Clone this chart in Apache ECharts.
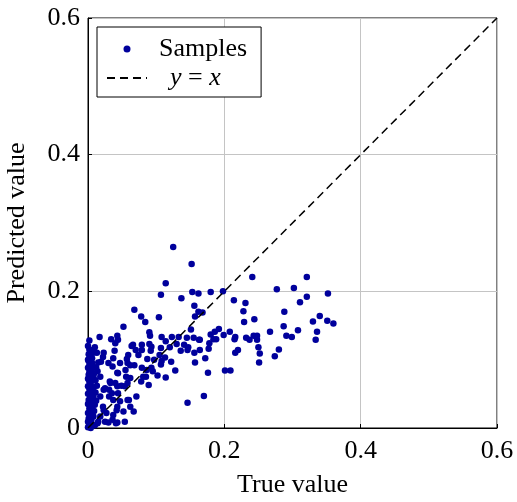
<!DOCTYPE html>
<html>
<head>
<meta charset="utf-8">
<script src="https://cdn.jsdelivr.net/npm/echarts@6/dist/echarts.min.js"></script>
<style>
html,body{margin:0;padding:0;background:#fff;}
#chart{width:517px;height:502px;}
</style>
</head>
<body>
<div id="chart"></div>
<script>
// True values (x) and predicted values (y) of the samples
const trueValues = [
0.241,0.321,0.180,0.198,0.277,0.302,0.352,0.214,0.231,0.311,0.321,0.168,0.228,0.288,0.229,0.244,0.330,0.340,0.351,0.360,
0.287,0.308,0.336,0.334,0.267,0.291,0.299,0.164,0.180,0.186,0.192,0.184,0.188,0.199,0.208,0.216,0.215,0.232,0.237,0.243,
0.248,0.248,0.250,0.252,0.251,0.280,0.274,0.220,0.216,0.178,0.177,0.172,0.176,0.201,0.209,0.170,
0.125,0.152,0.114,0.107,0.153,0.162,0.137,0.156,0.162,0.068,0.078,0.084,0.104,0.157,0.052,0.090,0.151,
0.002,0.017,0.034,0.043,0.044,0.091,0.108,0.123,0.133,0.145,0.155,0.163,0.040,0.066,0.079,0.090,0.093,0.114,0.130,0.141,0.147,
0.070,0.079,0.092,0.107,0.120,0.136,0.146,0.164,0.008,0.039,0.059,0.074,0.105,0.113,0.156,0.022,0.037,0.057,0.087,0.097,0.108,0.122,
0.001,0.006,0.015,0.030,0.047,0.062,0.068,0.079,0.093,0.107,0.157,0.012,0.036,0.055,0.086,0.095,0.081,0.085,0.102,0.114,0.128,
0.003,0.008,0.018,0.044,0.056,0.062,0.032,0.040,0.049,0.078,0.089,0.003,0.013,0.025,0.031,0.035,0.044,0.054,0.071,0.146,
0.008,0.018,0.037,0.047,0.060,0.062,0.067,0.042,0.052,0.003,0.010,0.022,0.027,0.037,0.018,0.025,0.030,0.041,0.054,0.003,0.010,0.015,
0.064,0.023,0.019,0.043,0.058,0.014,0.011,0.033,0.023,0.043,0.058,0.031,0.058,0.043,0.023,0.036,0.043,0.014,
0.000,0.002,0.004,0.001,0.003,0.006,0.000,0.004,0.002,0.007,0.000,0.005,0.002,0.009,0.001,0.004,0.000,0.006,0.002,0.004,
0.000,0.008,0.002,0.005,0.000,0.003,0.006,0.001,0.004,0.000,0.007,0.002,0.005,0.000,0.003,0.008,0.001,0.005,0.000,0.002,
0.006,0.000,0.004,0.011,0.012,0.009,0.013,0.010
];
const predictedValues = [
0.221,0.221,0.199,0.200,0.203,0.205,0.197,0.187,0.183,0.184,0.192,0.169,0.171,0.170,0.155,0.159,0.156,0.164,0.157,0.153,
0.149,0.143,0.141,0.129,0.141,0.135,0.133,0.129,0.137,0.141,0.145,0.130,0.130,0.136,0.141,0.133,0.130,0.132,0.129,0.135,
0.135,0.129,0.118,0.109,0.096,0.115,0.105,0.114,0.110,0.124,0.116,0.102,0.081,0.084,0.084,0.047,
0.265,0.240,0.212,0.195,0.199,0.197,0.190,0.179,0.170,0.173,0.163,0.155,0.162,0.163,0.148,0.140,0.144,
0.128,0.133,0.130,0.135,0.129,0.135,0.133,0.133,0.133,0.132,0.132,0.129,0.124,0.122,0.122,0.123,0.119,0.127,0.123,0.122,0.118,
0.114,0.114,0.113,0.117,0.118,0.113,0.114,0.114,0.110,0.113,0.107,0.107,0.107,0.103,0.110,0.104,0.102,0.101,0.101,0.100,0.098,0.097,
0.098,0.095,0.096,0.095,0.095,0.092,0.092,0.088,0.088,0.093,0.096,0.089,0.090,0.085,0.085,0.083,0.075,0.075,0.077,0.074,0.084,
0.085,0.075,0.075,0.080,0.075,0.073,0.068,0.066,0.062,0.068,0.063,0.066,0.062,0.058,0.056,0.051,0.051,0.061,0.046,0.037,
0.046,0.046,0.041,0.039,0.041,0.031,0.024,0.026,0.024,0.031,0.034,0.031,0.022,0.019,0.017,0.009,0.008,0.007,0.009,0.007,0.004,0.009,
0.120,0.110,0.097,0.081,0.095,0.083,0.070,0.066,0.056,0.061,0.066,0.046,0.041,0.031,0.026,0.012,0.008,0.007,
0.120,0.115,0.112,0.108,0.104,0.102,0.100,0.097,0.092,0.090,0.088,0.086,0.082,0.080,0.078,0.076,0.072,0.070,0.068,0.064,
0.061,0.059,0.057,0.054,0.050,0.048,0.044,0.041,0.038,0.035,0.033,0.028,0.025,0.022,0.019,0.017,0.014,0.012,0.009,0.005,
0.003,0.001,0.000,0.052,0.040,0.025,0.110,0.118
];
// Reference line y = x
const diagX = [0, 0.6];
const diagY = [0, 0.6];
const axisTicks = [0, 0.2, 0.4, 0.6];

const FONT = 'Liberation Serif';
const FS = 26;
const samples = trueValues.map((x, i) => [x, predictedValues[i]]);
const diag = diagX.map((x, i) => [x, diagY[i]]);

const chart = echarts.init(document.getElementById('chart'), null, {renderer: 'canvas'});
const axisCommon = {
  type: 'value',
  min: axisTicks[0],
  max: axisTicks[axisTicks.length - 1],
  interval: axisTicks[1] - axisTicks[0],
  axisLine: {show: true, lineStyle: {color: '#000', width: 1}},
  axisTick: {show: true, inside: true, length: 4, lineStyle: {color: '#000'}},
  splitLine: {show: true, lineStyle: {color: '#c4c4c4', width: 1}},
  nameLocation: 'middle',
  nameTextStyle: {fontFamily: FONT, fontSize: FS, color: '#000'},
  axisLabel: {fontFamily: FONT, fontSize: FS, color: '#000',
    formatter: v => (v === 0 ? '0' : String(+v.toFixed(1)))}
};
chart.setOption({
  animation: false,
  backgroundColor: '#fff',
  grid: {left: 88, right: 20, top: 18, bottom: 74, containLabel: false, outerBoundsMode: 'none',
    show: true, borderColor: '#000', borderWidth: 1, backgroundColor: 'transparent'},
  xAxis: Object.assign({}, axisCommon, {name: 'True value', nameGap: 44,
    axisLabel: Object.assign({}, axisCommon.axisLabel, {margin: 10})}),
  yAxis: Object.assign({}, axisCommon, {name: 'Predicted value', nameGap: 58,
    axisLabel: Object.assign({}, axisCommon.axisLabel, {margin: 8})}),
  legend: {
    orient: 'vertical',
    left: 97, top: 27,
    padding: [9, 14, 6, 9],
    itemGap: 3,
    itemWidth: 40,
    itemHeight: 7,
    borderColor: '#000', borderWidth: 1,
    backgroundColor: '#fff',
    selectedMode: false,
    textStyle: {fontFamily: FONT, fontSize: FS, color: '#000',
      rich: {i: {fontFamily: FONT, fontSize: FS, fontStyle: 'italic', color: '#000'},
             n: {fontFamily: FONT, fontSize: FS, color: '#000'},
             s: {width: 7}, t: {width: 18}}},
    formatter: name => (name === 'y = x' ? '{t|}{i|y} = {i|x}' : '{s|}{n|' + name + '}'),
    data: [{name: 'Samples', icon: 'circle'}, {name: 'y = x', itemStyle: {opacity: 0}}]
  },
  series: [
    {
      name: 'Samples', type: 'scatter', data: samples, symbol: 'circle', symbolSize: 6.5,
      itemStyle: {color: '#00009c', opacity: 1}, z: 2
    },
    {
      name: 'y = x', type: 'line', data: diag, symbol: 'none', z: 3,
      lineStyle: {color: '#000', width: 1.5, type: [8, 5]}, itemStyle: {color: '#000'}
    }
  ]
});
</script>
</body>
</html>
